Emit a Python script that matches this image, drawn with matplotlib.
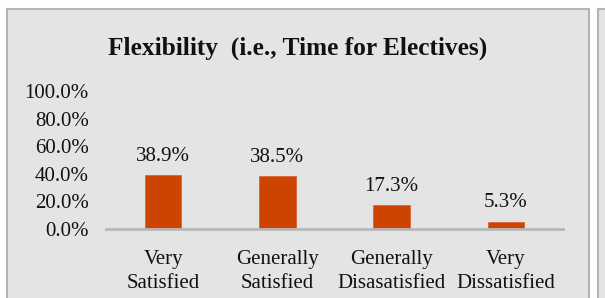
import matplotlib
matplotlib.use("Agg")
import matplotlib.pyplot as plt
from matplotlib.patches import Rectangle

categories = ["Very\nSatisfied", "Generally\nSatisfied", "Generally\nDisasatisfied", "Very\nDissatisfied"]
values = [38.9, 38.5, 17.3, 5.3]
yticks = [0, 20, 40, 60, 80, 100]
title = "Flexibility  (i.e., Time for Electives)"

plt.rcParams['font.family'] = ['Liberation Serif', 'DejaVu Serif']

W, H = 605, 298
fig = plt.figure(figsize=(W / 100, H / 100), dpi=100)
fig.patch.set_facecolor('white')

def fx(px):
    return px / W

def fy(py):
    return 1 - py / H

# panel
fig.patches.append(Rectangle((fx(7), fy(305)), fx(589 - 7), (305 - 9) / H,
                             transform=fig.transFigure, facecolor='#e4e4e4',
                             edgecolor='#b4b4b4', linewidth=1.5, zorder=-5))
fig.patches.append(Rectangle((fx(597.5), fy(305)), fx(30), (305 - 9) / H,
                             transform=fig.transFigure, facecolor='#e4e4e4',
                             edgecolor='#b4b4b4', linewidth=1.5, zorder=-5))

ax = fig.add_axes([fx(106), fy(229), fx(563 - 106), (229 - 91) / H])
ax.set_zorder(2)
ax.set_facecolor('none')
x = list(range(len(categories)))
bars = ax.bar(x, values, width=0.32, color='#cc4400', edgecolor='#d8653a', linewidth=0.6, zorder=2)
ax.set_xlim(-0.5, len(categories) - 0.5)
ax.set_ylim(0, 100)
ax.set_yticks(yticks)
ax.set_yticklabels([f"{v:.1f}%" for v in yticks])
ax.set_xticks(x)
ax.set_xticklabels(categories, linespacing=1.36)
ax.tick_params(axis='y', length=0, pad=12.5, labelsize=15, colors='#111111')
ax.tick_params(axis='x', length=0, pad=15, labelsize=15, colors='#111111')
for s in ['top', 'right', 'left']:
    ax.spines[s].set_visible(False)
ax.spines['bottom'].set_color('#b8b8b8')
ax.spines['bottom'].set_linewidth(2)

for xi, v in zip(x, values):
    ax.annotate(f"{v:.1f}%", (xi, v), xytext=(0, 13.5), textcoords='offset points',
                ha='center', va='center', fontsize=15, color='#111111')

fig.text(fx(297.5), fy(48.5), title, ha='center', va='center', fontsize=18.3,
         fontweight='bold', color='#111111', zorder=3)

fig.savefig('out.png', dpi=100, facecolor='white')
